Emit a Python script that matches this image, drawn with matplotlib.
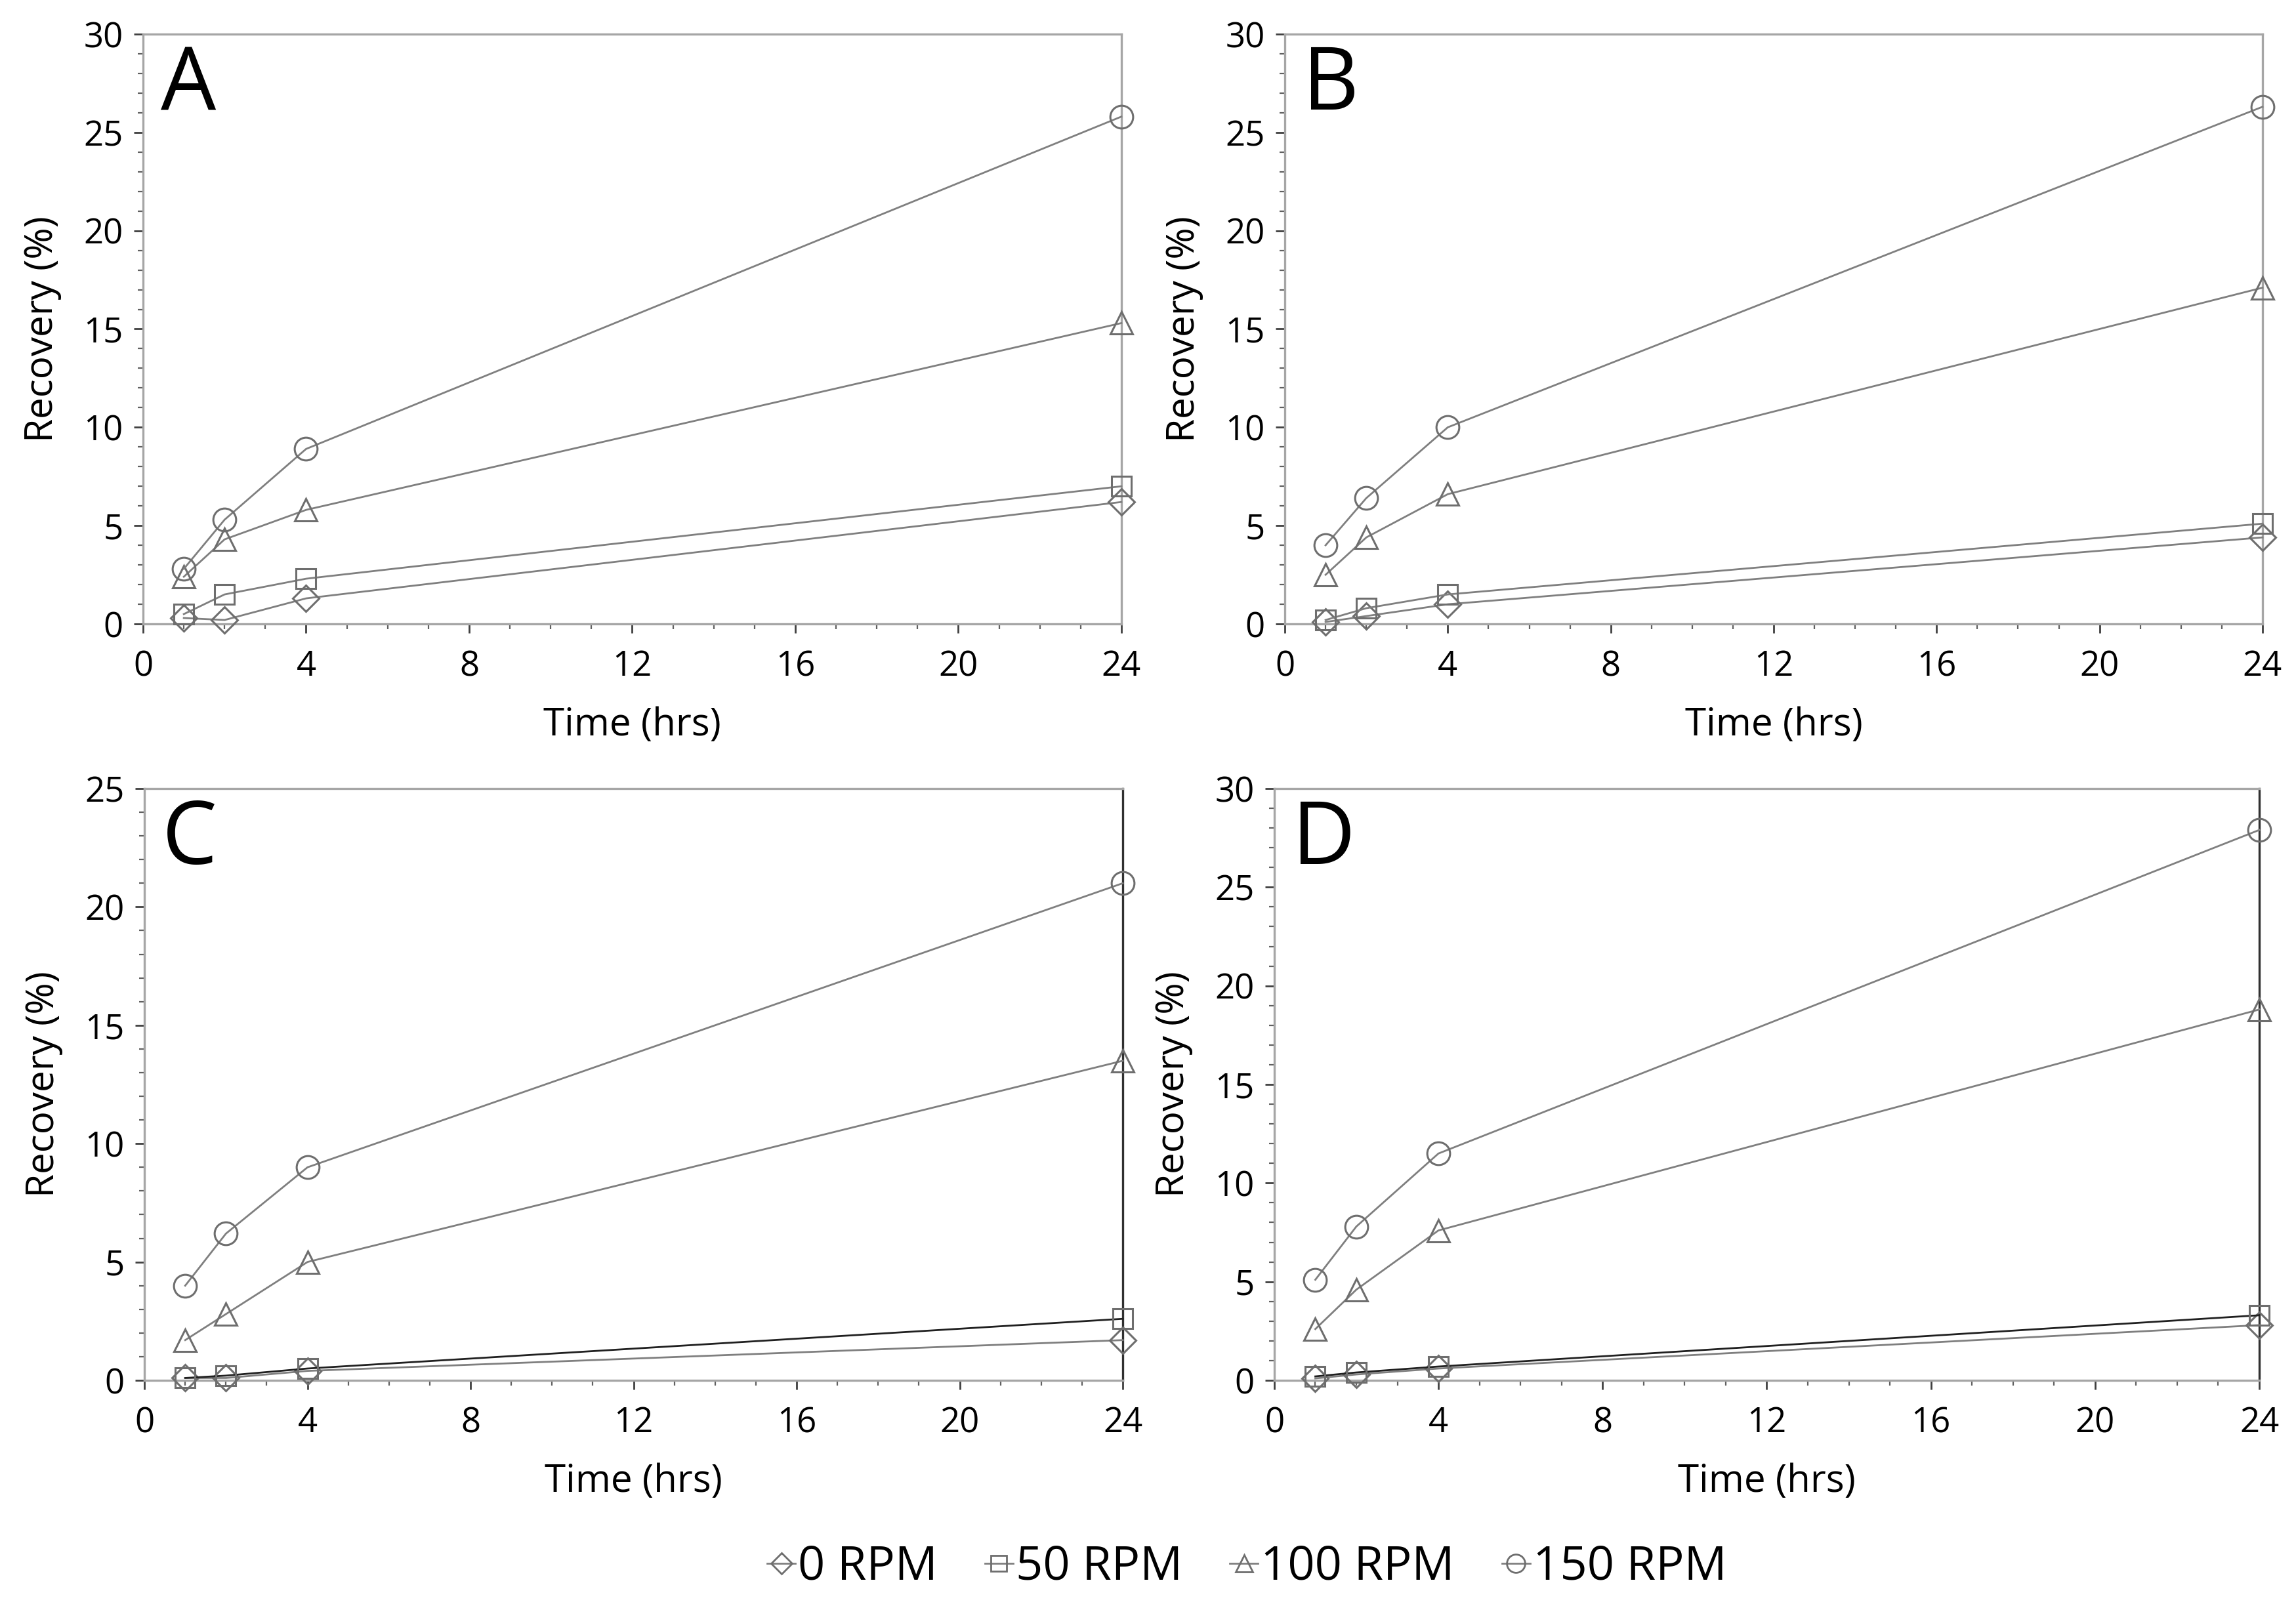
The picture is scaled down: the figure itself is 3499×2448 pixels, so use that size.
import numpy as np
import matplotlib
matplotlib.use('Agg')
import matplotlib.pyplot as plt
from matplotlib.ticker import MultipleLocator
from matplotlib.lines import Line2D

plt.rcParams['font.family'] = ['Open Sans', 'DejaVu Sans']

time_hrs = [1, 2, 4, 24]
panels = ['A', 'B', 'C', 'D']
rpm_labels = ['0 RPM', '50 RPM', '100 RPM', '150 RPM']

rpm0 = {'A': [0.3, 0.2, 1.3, 6.2], 'B': [0.1, 0.4, 1.0, 4.4],
        'C': [0.1, 0.1, 0.4, 1.7], 'D': [0.1, 0.3, 0.6, 2.8]}
rpm50 = {'A': [0.5, 1.5, 2.3, 7.0], 'B': [0.2, 0.8, 1.5, 5.1],
         'C': [0.1, 0.2, 0.5, 2.6], 'D': [0.2, 0.4, 0.7, 3.3]}
rpm100 = {'A': [2.4, 4.3, 5.8, 15.3], 'B': [2.5, 4.4, 6.6, 17.1],
          'C': [1.7, 2.8, 5.0, 13.5], 'D': [2.6, 4.6, 7.6, 18.8]}
rpm150 = {'A': [2.8, 5.3, 8.9, 25.8], 'B': [4.0, 6.4, 10.0, 26.3],
          'C': [4.0, 6.2, 9.0, 21.0], 'D': [5.1, 7.8, 11.5, 27.9]}
y_max = {'A': 30, 'B': 30, 'C': 25, 'D': 30}

markers = ['D', 's', '^', 'o']
marker_sizes = [10, 11, 12, 12.5]
series = [rpm0, rpm50, rpm100, rpm150]

line_grey = '#7f7f7f'
spine_grey = '#a6a6a6'

fig = plt.figure(figsize=(17.495, 12.24), dpi=200)
positions = {'A': [0.0623, 0.6115, 0.4261, 0.3673],
             'B': [0.5596, 0.6115, 0.4258, 0.3673],
             'C': [0.0629, 0.1405, 0.4261, 0.3685],
             'D': [0.5550, 0.1405, 0.4290, 0.3685]}

for p in panels:
    ax = fig.add_axes(positions[p])
    for k, s in enumerate(series):
        col = line_grey
        if p in ('C', 'D') and k == 1:
            col = '#202020'
        ax.plot(time_hrs, s[p], color=col, lw=1.0, marker=markers[k],
                ms=marker_sizes[k], mfc='none', mec='#6e6e6e', mew=1.1,
                clip_on=False, zorder=3)
    ax.set_xlim(0, 24)
    ax.set_ylim(0, y_max[p])
    ax.xaxis.set_major_locator(MultipleLocator(4))
    ax.xaxis.set_minor_locator(MultipleLocator(1))
    ax.yaxis.set_major_locator(MultipleLocator(5))
    ax.yaxis.set_minor_locator(MultipleLocator(1))
    ax.tick_params(which='major', direction='out', length=5, width=1.0,
                   color='#404040', labelsize=19, pad=6)
    ax.tick_params(axis='x', which='major', pad=9)
    ax.tick_params(which='minor', direction='out', length=3, width=0.8,
                   color='#606060')
    for side in ['left', 'top', 'bottom', 'right']:
        ax.spines[side].set_color(spine_grey)
        ax.spines[side].set_linewidth(1.2)
    if p in ('C', 'D'):
        ax.spines['right'].set_color('#303030')
    ax.set_xlabel('Time (hrs)', fontsize=21, labelpad=12)
    ax.set_ylabel('Recovery (%)', fontsize=21, labelpad=12)
    ax.text(0.018, 0.985, p, transform=ax.transAxes, fontsize=48,
            va='top', ha='left')

handles = [Line2D([0], [0], color=line_grey, lw=1.0, marker=m, ms=ms * 0.8,
                  mfc='none', mec='#6e6e6e') for m, ms in zip(markers, marker_sizes)]
fig.legend(handles, rpm_labels, loc='center', bbox_to_anchor=(0.543, 0.024),
           ncol=4, frameon=False, fontsize=26, handlelength=0.6,
           handletextpad=0.05, columnspacing=1.0)

fig.savefig('out.png', dpi=200)
